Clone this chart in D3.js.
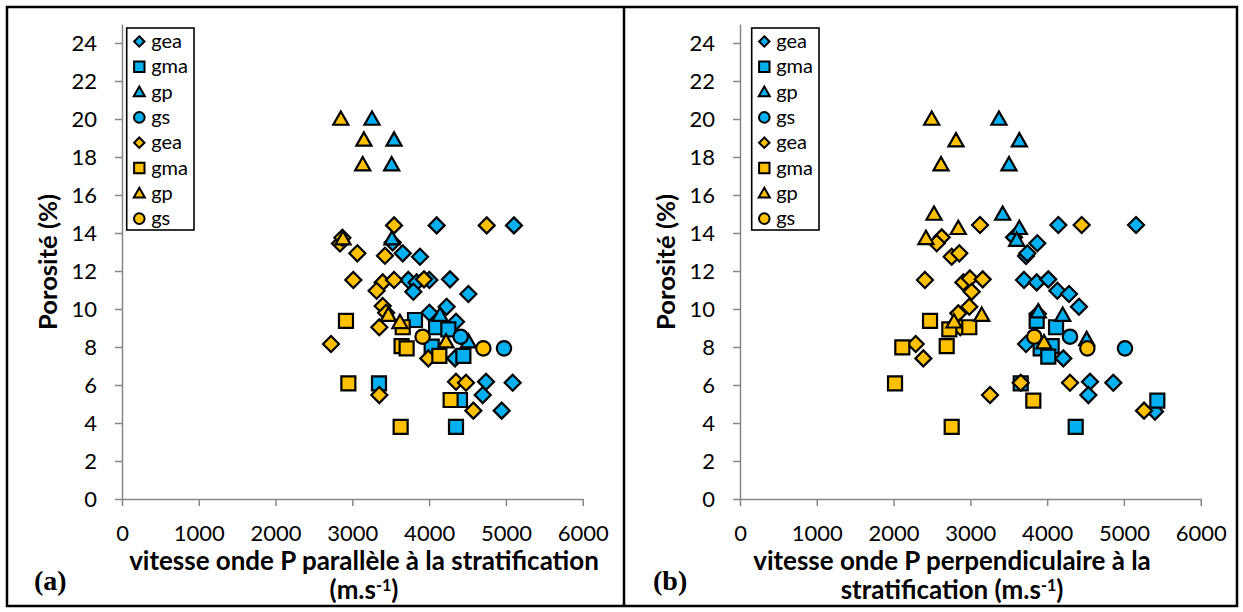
<!DOCTYPE html>
<html><head><meta charset="utf-8">
<script src="https://cdn.jsdelivr.net/npm/d3@7"></script>
<style>body{margin:0;background:#fff}svg{display:block}</style>
</head><body>
<svg id="c" width="1243" height="612"></svg>
<script>
// ---------- data ----------
const seriesNames = ["gea", "gma", "gp", "gs"];
const seriesShapes = ["diamond", "square", "triangle", "circle"];
const xTickValues = [0, 1000, 2000, 3000, 4000, 5000, 6000];
const yTickValues = [0, 2, 4, 6, 8, 10, 12, 14, 16, 18, 20, 22, 24];
const yTitle = "Porosité (%)";
const panelLetters = ["(a)", "(b)"];
const xTitleA = ["vitesse onde P parallèle à la stratification", "(m.s", "-1", ")"];
const xTitleB = ["vitesse onde P perpendiculaire à la", "stratification (m.s", "-1", ")"];

// panel (a): [vitesse m/s, porosité %]
const aBlueGea = [[4098,14.4],[5105,14.4],[3525,13.5],[3656,12.93],[3881,12.75],[3729,11.53],[3837,11.4],[4003,11.53],[4272,11.56],[3794,10.91],[4511,10.79],[4003,9.8],[4228,10.12],[4350,9.33],[4337,7.4],[4741,6.17],[5088,6.12],[4698,5.47],[4945,4.65]];
const aBlueGma = [[3816,9.42],[4090,9.04],[4250,8.93],[4033,8.02],[4446,7.53],[3347,6.09],[4402,5.21],[4350,3.8]];
const aBlueGp  = [[3256,20],[3543,18.9],[3512,17.6],[3516,13.7],[4142,9.68],[4511,8.28]];
const aBlueGs  = [[4411,8.54],[4975,7.93]];
const aOrangeGea = [[3543,14.4],[4750,14.4],[2839,13.45],[2870,13.75],[3065,12.93],[3425,12.8],[3013,11.53],[3395,11.4],[3543,11.53],[3933,11.56],[3316,10.96],[3395,10.16],[3440,9.8],[3351,9.04],[2722,8.16],[3989,7.4],[4350,6.17],[4480,6.12],[3351,5.47],[4576,4.65]];
const aOrangeGma = [[2917,9.38],[3656,9.04],[3641,8.05],[3707,7.93],[4133,7.53],[2948,6.09],[4280,5.21],[3629,3.8]];
const aOrangeGp  = [[2850,20],[3150,18.9],[3135,17.6],[2878,13.7],[3469,9.68],[3620,9.3],[4220,8.28]];
const aOrangeGs  = [[3915,8.54],[4706,7.93]];

// panel (b)
const bBlueGea = [[4146,14.42],[5158,14.42],[3569,13.77],[3872,13.46],[3725,12.79],[3742,12.93],[3699,11.53],[3864,11.4],[4015,11.56],[4133,10.96],[4285,10.79],[4415,10.12],[3880,9.75],[3725,8.16],[4211,7.4],[4558,6.17],[4862,6.12],[4537,5.47],[5405,4.6]];
const bBlueGma = [[3864,9.38],[4116,9.04],[4059,8.05],[3916,7.93],[4015,7.49],[3656,6.09],[5435,5.18],[4372,3.8]];
const bBlueGp  = [[3373,20],[3638,18.86],[3503,17.6],[3421,15.0],[3638,14.25],[3603,13.63],[3885,9.86],[4203,9.68],[4515,8.4]];
const bBlueGs  = [[4298,8.54],[5014,7.93]];
const bOrangeGea = [[3126,14.42],[4450,14.42],[2627,13.77],[2562,13.46],[2757,12.75],[2856,12.93],[2409,11.53],[2909,11.4],[2995,11.61],[3161,11.56],[3017,10.91],[2986,10.12],[2843,9.77],[2869,9.04],[2288,8.16],[2388,7.4],[3656,6.12],[4298,6.12],[3256,5.47],[5262,4.65]];
const bOrangeGma = [[2475,9.37],[2726,8.93],[2986,9.04],[2114,7.98],[2692,8.05],[2019,6.09],[3820,5.18],[2757,3.8]];
const bOrangeGp  = [[2497,20],[2813,18.86],[2618,17.6],[2527,15.0],[2843,14.25],[2422,13.72],[3148,9.68],[2787,9.33],[3959,8.23]];
const bOrangeGs  = [[3833,8.54],[4524,7.93]];

// ---------- style / layout ----------
const BLUE = "#00B0F0", ORANGE = "#FFC000", AXIS = "#868686";
const FONT = "Lato, 'Open Sans', sans-serif";

const panels = [
  { x0: 122, x1: 582.7, legendX: 126.7, letter: panelLetters[0], letterX: 34, title: xTitleA, titleCx: 364, yTitleX: 50,
    series: [[aBlueGea, BLUE], [aBlueGma, BLUE], [aBlueGp, BLUE], [aBlueGs, BLUE], [aOrangeGea, ORANGE], [aOrangeGma, ORANGE], [aOrangeGp, ORANGE], [aOrangeGs, ORANGE]] },
  { x0: 740, x1: 1200.7, legendX: 751.7, letter: panelLetters[1], letterX: 653, title: xTitleB, titleCx: 952, yTitleX: 668,
    series: [[bBlueGea, BLUE], [bBlueGma, BLUE], [bBlueGp, BLUE], [bBlueGs, BLUE], [bOrangeGea, ORANGE], [bOrangeGma, ORANGE], [bOrangeGp, ORANGE], [bOrangeGs, ORANGE]] }
];

function shapePath(shape, s) {
  if (shape === "diamond") return `M0,${-s}L${s},0L0,${s}L${-s},0Z`;
  if (shape === "square") return `M${-s},${-s}H${s}V${s}H${-s}Z`;
  if (shape === "triangle") return `M0,${-s*1.05}L${s*1.05},${s*0.8}L${-s*1.05},${s*0.8}Z`;
  const p = d3.path(); p.arc(0, 0, s, 0, 2 * Math.PI); p.closePath(); return p.toString();
}
const markerHalf = { diamond: 8, square: 7, triangle: 7.2, circle: 7.2 };
const legendHalf = { diamond: 5.2, square: 5.2, triangle: 5.3, circle: 5.3 };

const svg = d3.select("#c");
svg.append("rect").attr("width", 1243).attr("height", 612).attr("fill", "#fff");

// frame
svg.append("rect").attr("x", 7).attr("y", 7).attr("width", 1230).attr("height", 599)
  .attr("fill", "none").attr("stroke", "#000").attr("stroke-width", 2.5);
svg.append("line").attr("x1", 624).attr("x2", 624).attr("y1", 7).attr("y2", 606)
  .attr("stroke", "#000").attr("stroke-width", 2.5);

let titleFont = null;

panels.forEach((P, pi) => {
  const g = svg.append("g");
  const x = d3.scaleLinear().domain([0, 6000]).range([P.x0, P.x1]);
  const y = d3.scaleLinear().domain([0, 25]).range([499, 24]);

  const ya = g.append("g").attr("transform", `translate(${P.x0},0)`)
    .call(d3.axisLeft(y).tickValues(yTickValues).tickSize(7).tickSizeOuter(0).tickPadding(18));
  const xa = g.append("g").attr("transform", `translate(0,${y(0)})`)
    .call(d3.axisBottom(x).tickValues(xTickValues).tickSize(7).tickSizeOuter(0).tickPadding(19).tickFormat(d3.format("d")));
  [ya, xa].forEach(a => {
    a.select(".domain").attr("stroke", AXIS).attr("stroke-width", 1.5);
    a.selectAll(".tick line").attr("stroke", AXIS).attr("stroke-width", 1.5);
    a.selectAll(".tick text").attr("fill", "#000").attr("font-size", 22).attr("font-family", FONT);
  });

  P.series.forEach(([data, color], si) => {
    const shape = seriesShapes[si % 4];
    g.append("g").selectAll("path").data(data).join("path")
      .attr("transform", d => `translate(${x(d[0])},${y(d[1])})`)
      .attr("d", shapePath(shape, markerHalf[shape]))
      .attr("fill", color).attr("stroke", "#000").attr("stroke-width", 2.2)
      .attr("stroke-linejoin", "miter");
  });

  // legend
  const lg = g.append("g");
  const top = 28, step = 25.3;
  lg.append("rect").attr("x", P.legendX).attr("y", top).attr("width", 67.3).attr("height", 202)
    .attr("fill", "#fff").attr("stroke", "#000").attr("stroke-width", 1.6);
  P.series.forEach(([data, color], si) => {
    const shape = seriesShapes[si % 4];
    const cy = top + 13.5 + si * step;
    lg.append("path").attr("transform", `translate(${P.legendX + 12.6},${cy})`)
      .attr("d", shapePath(shape, legendHalf[shape]))
      .attr("fill", color).attr("stroke", "#000").attr("stroke-width", 2);
    lg.append("text").attr("x", P.legendX + 24.5).attr("y", cy + 6.5)
      .attr("font-family", FONT).attr("font-size", 20).text(seriesNames[si % 4]);
  });

  // y title
  const yt = g.append("text").attr("transform", `translate(${P.yTitleX + 7},262) rotate(-90)`)
    .attr("text-anchor", "middle").attr("font-family", FONT).attr("font-weight", "bold")
    .attr("font-size", 20).text(yTitle);
  const yw = yt.node().getComputedTextLength();
  yt.attr("font-size", 20 * 136 / yw);

  // x title
  const xt = g.append("text").attr("text-anchor", "middle").attr("font-family", FONT).attr("font-weight", "bold");
  if (pi === 0) {
    const l1 = xt.append("tspan").attr("x", P.titleCx).attr("y", 570).attr("font-size", 20).text(P.title[0]);
    const w = l1.node().getComputedTextLength();
    titleFont = 20 * 470 / w;
    l1.attr("font-size", titleFont);
  } else {
    xt.append("tspan").attr("x", P.titleCx).attr("y", 570).attr("font-size", titleFont).text(P.title[0]);
  }
  const l2 = g.append("text").attr("text-anchor", "middle").attr("font-family", FONT).attr("font-weight", "bold")
    .attr("x", P.titleCx).attr("y", 599).attr("font-size", titleFont);
  l2.append("tspan").text(P.title[1]);
  l2.append("tspan").attr("font-size", titleFont * 0.62).attr("dy", -8).text(P.title[2]);
  l2.append("tspan").attr("dy", 8).text(P.title[3]);

  g.append("text").attr("x", P.letterX).attr("y", 590).attr("font-family", "'Liberation Serif', 'Times New Roman', serif")
    .attr("font-weight", "bold").attr("font-size", 28).text(P.letter);
});
</script>
</body></html>
